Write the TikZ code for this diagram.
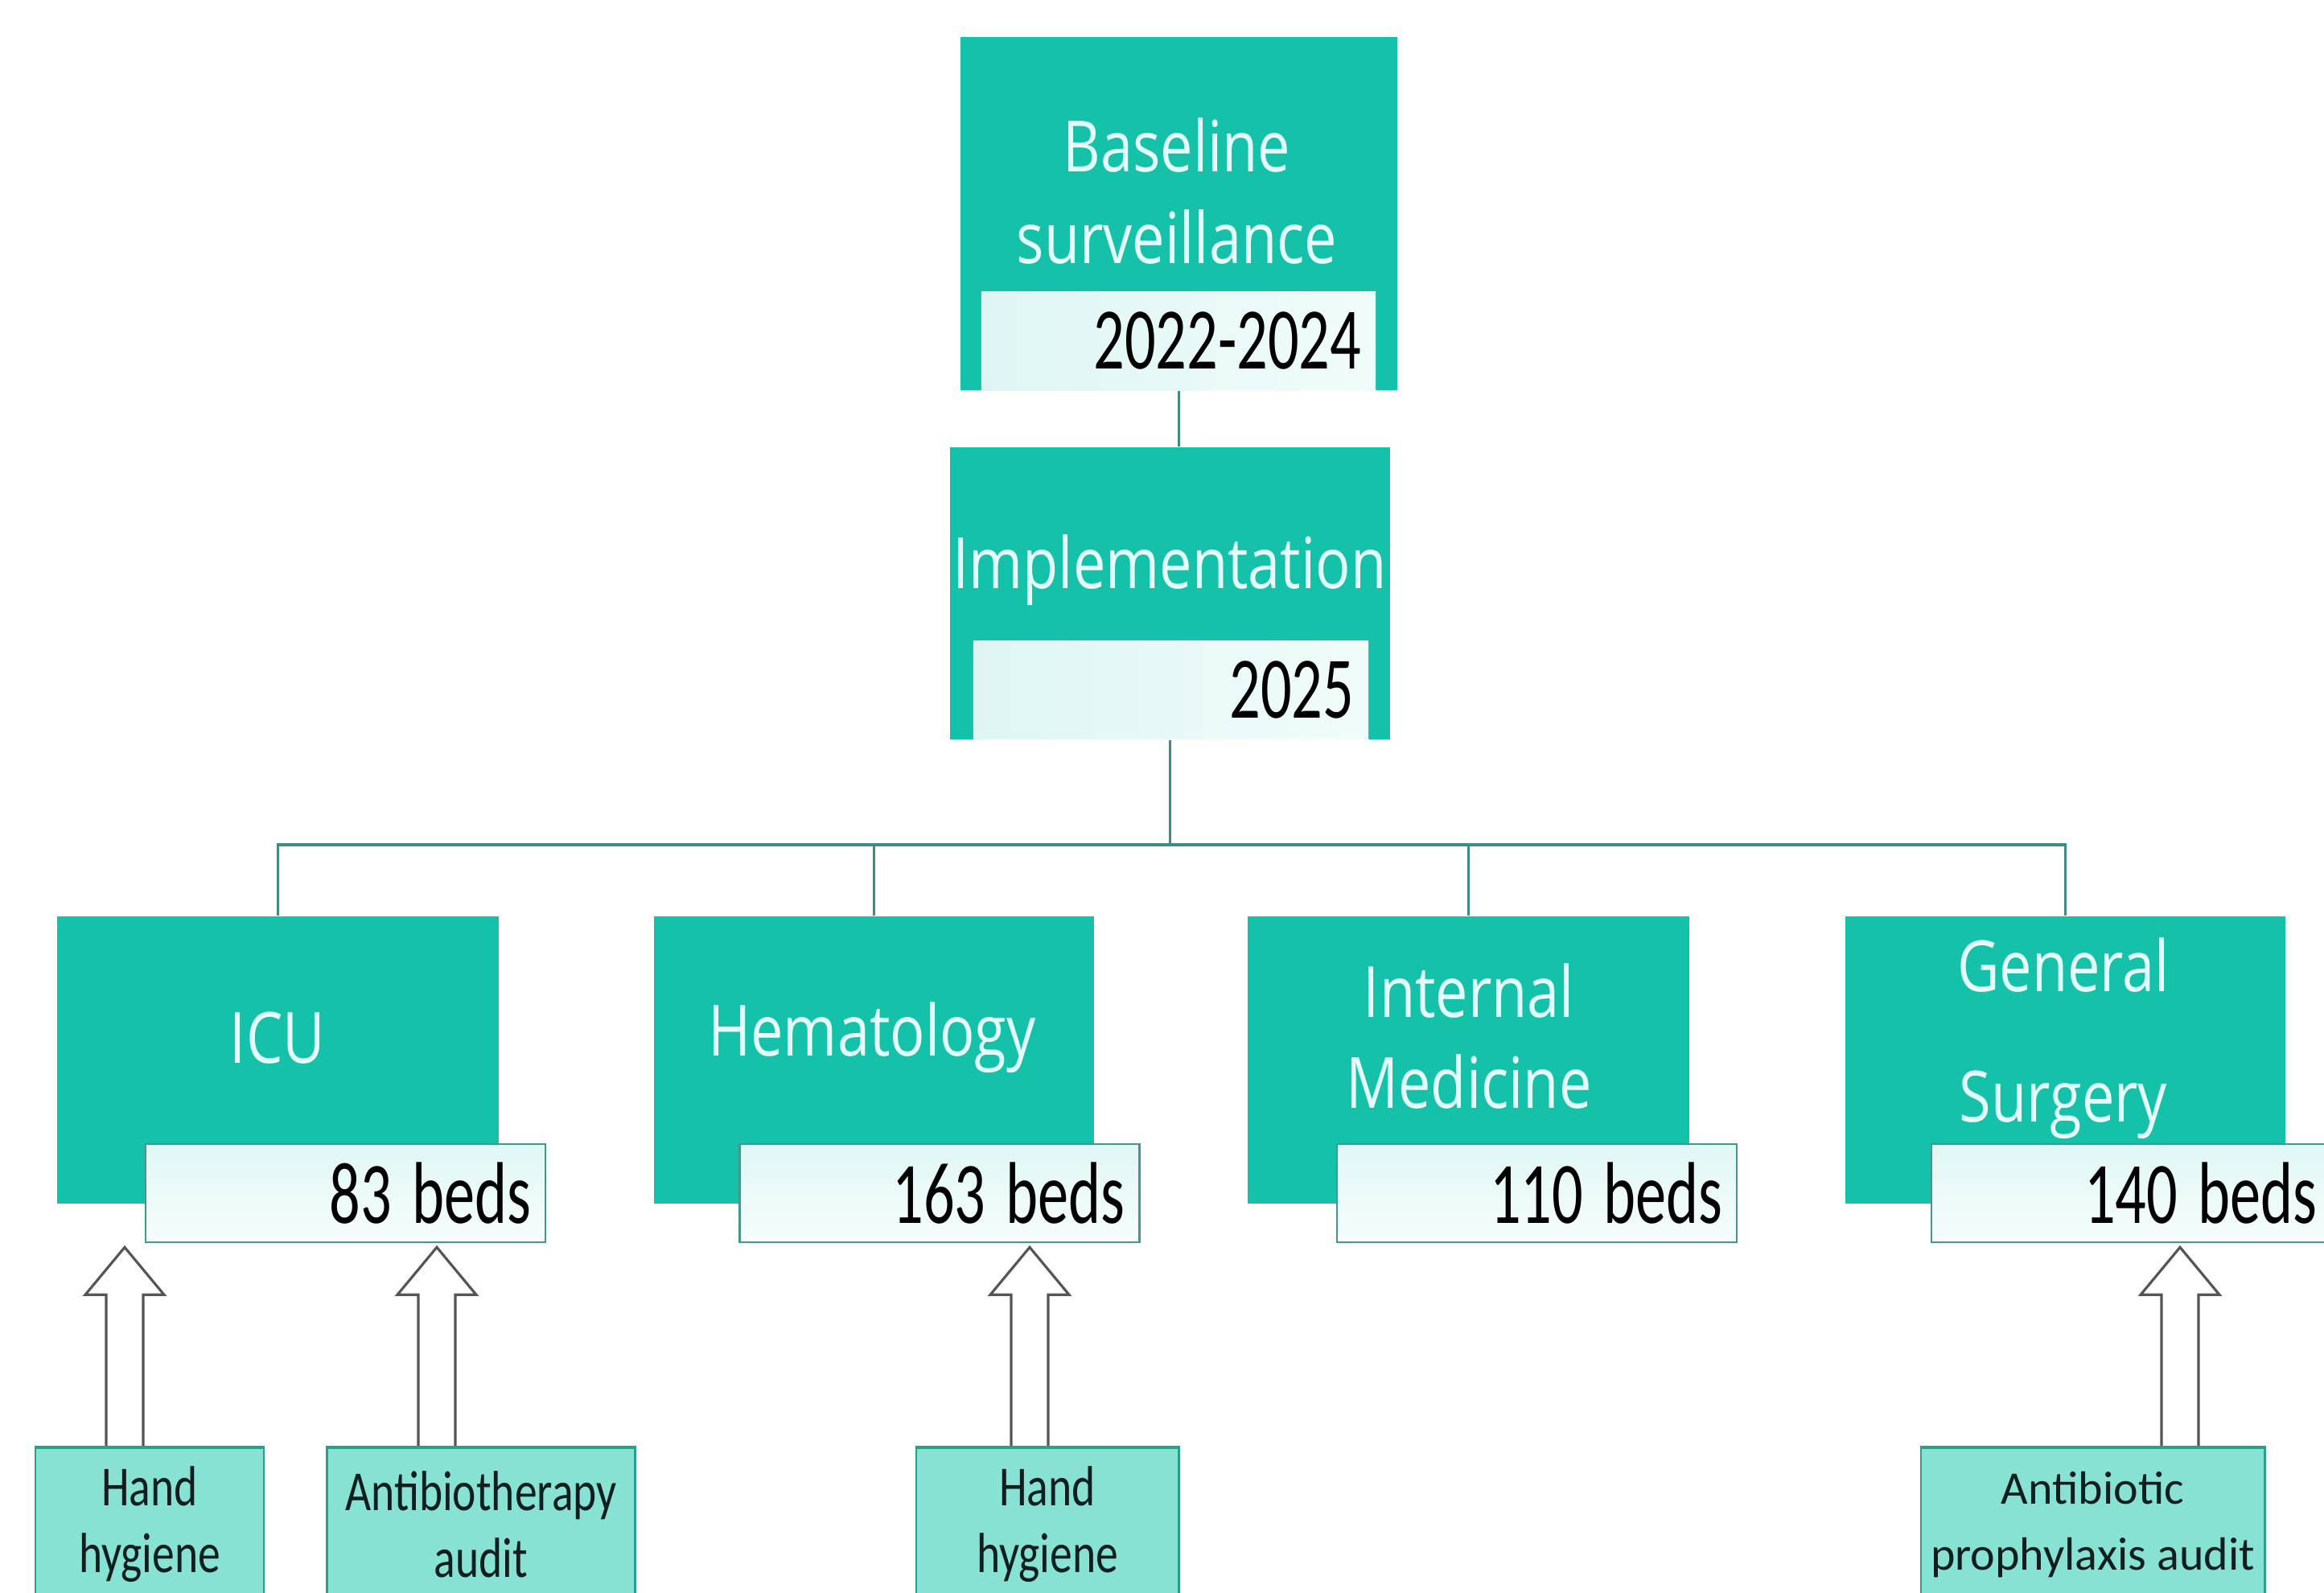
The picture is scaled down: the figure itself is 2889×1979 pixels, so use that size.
\documentclass[tikz,border=0pt]{standalone}
\usepackage{fontspec}
\setmainfont{Carlito}
\newfontfamily\headfont[FakeStretch=0.82]{Open Sans}
\newfontfamily\narrowfont[FakeStretch=0.79]{Carlito}
\newfontfamily\tallfont[FakeStretch=0.70]{Carlito}
\usetikzlibrary{calc}
\definecolor{tealA}{RGB}{22,193,170}
\definecolor{headwhite}{RGB}{228,255,250}
\definecolor{dateL}{RGB}{222,246,243}
\definecolor{dateR}{RGB}{240,252,250}
\definecolor{bedT}{RGB}{224,247,244}
\definecolor{bedB}{RGB}{246,253,252}
\definecolor{bedline}{RGB}{70,150,140}
\definecolor{conline}{RGB}{60,140,130}
\definecolor{lowfill}{RGB}{135,226,211}
\definecolor{lowline}{RGB}{40,160,140}
\definecolor{arrowgray}{RGB}{85,85,85}
\definecolor{inktext}{RGB}{15,30,30}
\newcommand\bsp{\hspace{0.25cm}}
\newcommand\blockarrow[3]{%
  \draw[blockarr] ($(#1 |- #3.north)+(-23,0)$) -- ($(#1 |- #2.south)+(-23,64)$) -- ($(#1 |- #2.south)+(-49,64)$) -- ($(#1 |- #2.south)+(0,5)$) -- ($(#1 |- #2.south)+(49,64)$) -- ($(#1 |- #2.south)+(23,64)$) -- ($(#1 |- #3.north)+(23,0)$);}
\begin{document}
\begin{tikzpicture}[x=0.01cm,y=-0.01cm,
  mainbox/.style={fill=tealA, draw=none, inner sep=0pt},
  headtext/.style={text=headwhite, font=\headfont\fontsize{25}{32.4}\selectfont, align=center, inner sep=0pt},
  datebox/.style={left color=dateL, right color=dateR, draw=none, minimum height=1.22cm, text width=4.55cm, inner xsep=0.18cm, inner ysep=0pt, align=right, font=\tallfont\fontsize{31}{34}\selectfont, text=black},
  bedbox/.style={datebox, top color=bedT, bottom color=bedB, draw=bedline, line width=0.7pt, text width=4.61cm},
  conn/.style={draw=conline, line width=0.9pt},
  lowbox/.style={fill=lowfill, draw=lowline, line width=0.8pt, minimum height=1.9cm, inner sep=0pt, align=center, text=inktext, font=\narrowfont\fontsize{20}{23.6}\selectfont},
  blockarr/.style={draw=arrowgray, line width=0.9pt, fill=white, line join=miter}
]
\clip (0,0) rectangle (2889,1979);
\fill[white] (0,0) rectangle (2889,1979);

% top boxes
\node[mainbox, minimum width=5.43cm, minimum height=4.39cm] (base) at (1465.5,265.5) {};
\node[datebox, text width=4.54cm] (basedate) at (1465,424) {2022-2024};
\node[headtext] (basetxt) at (1463,238) {Baseline\\surveillance};

\node[mainbox, minimum width=5.47cm, minimum height=3.63cm] (impl) at (1454.5,737.5) {};
\node[datebox, text width=4.55cm] (impldate) at (1455.5,857.5) {2025};
\node[headtext] (impltxt) at (1454,709) {Implementation};

% departments
\node[mainbox, minimum width=5.49cm, minimum height=3.57cm] (icu) at (345.5,1317.5) {};
\node[mainbox, minimum width=5.47cm, minimum height=3.57cm] (hema) at (1086.5,1317.5) {};
\node[mainbox, minimum width=5.49cm, minimum height=3.57cm] (intm) at (1825.5,1317.5) {};
\node[mainbox, minimum width=5.47cm, minimum height=3.57cm] (gsur) at (2567.5,1317.5) {};

\node[headtext] (icutxt) at (345,1290) {ICU};
\node[headtext] (hematxt) at (1084,1290) {Hematology};
\node[headtext] (intmtxt) at (1826,1288) {Internal\\Medicine};
\node[headtext, font=\headfont\fontsize{25}{46}\selectfont] (gsurtxt) at (2565,1291) {General\\Surgery};

\node[bedbox] (icubed) at (429.5,1483) {83\bsp beds};
\node[bedbox] (hemabed) at (1168,1483) {163\bsp beds};
\node[bedbox] (intmbed) at (1910.5,1483) {110\bsp beds};
\node[bedbox] (gsurbed) at (2649.5,1483) {140\bsp beds};

% connectors
\coordinate (bus) at (1455,1050);
\draw[conn] (base.south) -- (base.south |- impl.north);
\draw[conn] (impl.south) -- (impl.south |- bus);
\draw[conn] (icu.north) -- (icu.north |- bus) -- (gsur.north |- bus) -- (gsur.north);
\draw[conn] (hema.north) -- (hema.north |- bus);
\draw[conn] (intm.north) -- (intm.north |- bus);

% bottom boxes
\coordinate (ax1) at (155,0);
\coordinate (ax2) at (543,0);
\coordinate (ax3) at (1280,0);
\coordinate (ax4) at (2710,0);
\node[lowbox, minimum width=2.84cm] (hh1) at (186,1895) {Hand\\hygiene};
\node[lowbox, minimum width=3.82cm] (abx) at (598,1895) {Antibiotherapy\\audit};
\node[lowbox, minimum width=3.26cm] (hh2) at (1302,1895) {Hand\\hygiene};
\node[lowbox, minimum width=4.27cm, font=\fontsize{16.5}{23.6}\selectfont] (apx) at (2601.5,1895) {Antibiotic\\prophylaxis audit};

\blockarrow{ax1}{icubed}{hh1}
\blockarrow{ax2}{icubed}{abx}
\blockarrow{ax3}{hemabed}{hh2}
\blockarrow{ax4}{gsurbed}{apx}
\foreach \b in {hh1,abx,hh2,apx}{\draw[draw=lowline, line width=0.8pt] (\b.north west) -- (\b.north east);}
\end{tikzpicture}
\end{document}
